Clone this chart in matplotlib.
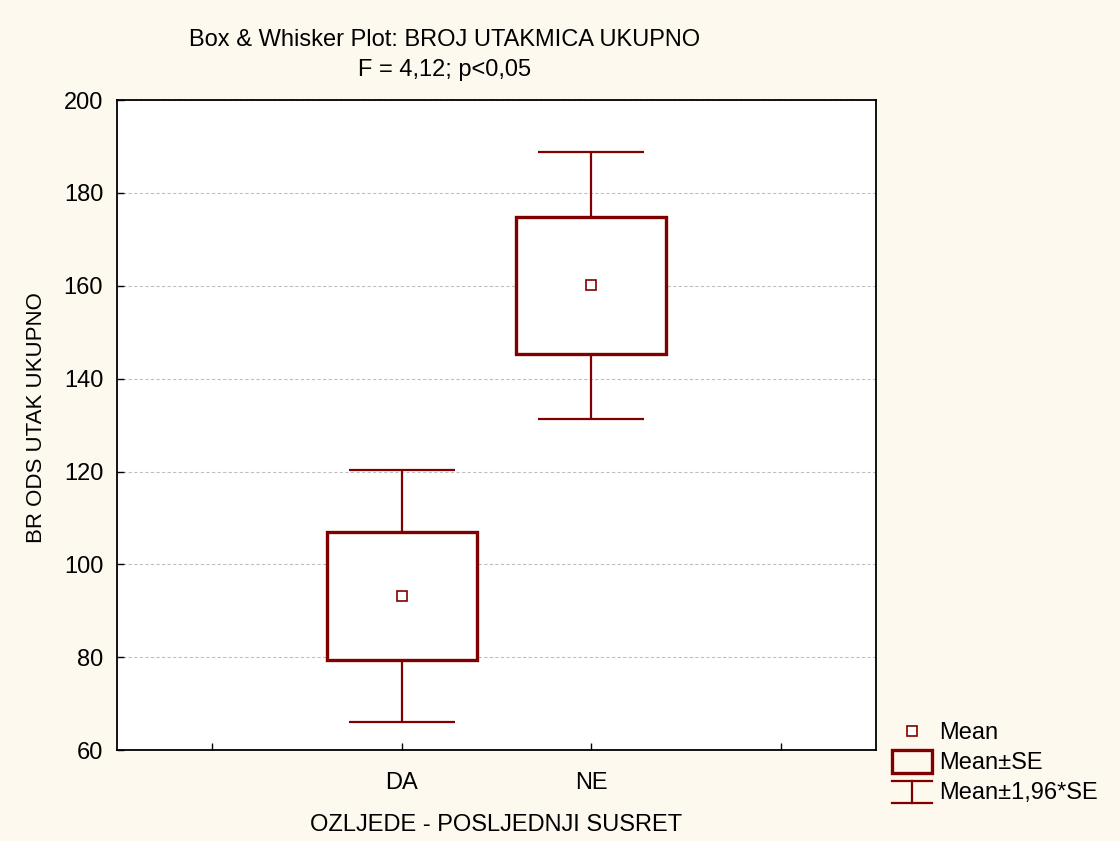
import numpy as np
import matplotlib.pyplot as plt
from matplotlib.lines import Line2D
from matplotlib.patches import Rectangle
from matplotlib.legend_handler import HandlerBase

plt.rcParams['font.family'] = ['Liberation Sans', 'DejaVu Sans']

# Data
groups = ['DA', 'NE']
group_pos = [2, 3]
means = np.array([93.2, 160.1])
se = np.array([13.8, 14.7])
xticks = [1, 2, 3, 4]
xticklabels = ['', 'DA', 'NE', '']
yticks = [60, 80, 100, 120, 140, 160, 180, 200]

RED = '#800000'
BG = '#fdf9ef'
FS = 17


class WhiskerHandler(HandlerBase):
    # I-shaped symbol for the Mean+-1.96*SE entry
    def create_artists(self, legend, orig_handle, xd, yd, width, height, fontsize, trans):
        x0, x1 = xd, xd + width
        xm = xd + width / 2
        y0, y1 = yd - 3, yd + height + 1
        lines = [
            Line2D([x0, x1], [y1, y1]),
            Line2D([xm, xm], [y0, y1]),
            Line2D([x0, x1], [y0, y0]),
        ]
        for ln in lines:
            ln.set_color(RED)
            ln.set_linewidth(1.6)
            ln.set_transform(trans)
        return lines


class BoxHandler(HandlerBase):
    # taller rectangle for the Mean+-SE entry
    def create_artists(self, legend, orig_handle, xd, yd, width, height, fontsize, trans):
        r = Rectangle((xd, yd - 3), width, height + 5, facecolor='none',
                      edgecolor=RED, linewidth=2.4, transform=trans)
        return [r]


fig = plt.figure(figsize=(11.2, 8.41), dpi=100, facecolor=BG)
ax = fig.add_axes([0.1045, 0.108, 0.6777, 0.773])
ax.set_facecolor('white')

# whiskers (mean +- 1.96*SE)
ax.errorbar(group_pos, means, yerr=1.96 * se, fmt='none', ecolor=RED,
            elinewidth=1.6, capsize=38, capthick=1.6, zorder=2)
# boxes (mean +- SE)
ax.bar(group_pos, 2 * se, bottom=means - se, width=0.79, color='white',
       edgecolor=RED, linewidth=2.4, zorder=3)
# means
ax.plot(group_pos, means, linestyle='none', marker='s', markersize=7.5,
        markerfacecolor='white', markeredgecolor=RED, markeredgewidth=1.2, zorder=4)

ax.set_xlim(0.5, 4.5)
ax.set_ylim(60, 200)
ax.set_xticks(xticks)
ax.set_xticklabels(xticklabels)
ax.set_yticks(yticks)
ax.tick_params(direction='in', length=5, width=1, labelsize=FS)
ax.tick_params(axis='y', pad=10)
ax.tick_params(axis='x', pad=16)
ax.yaxis.grid(True, linestyle=(0, (3, 2)), color='#c0c0c0', linewidth=0.8)
ax.set_axisbelow(True)
for sp in ax.spines.values():
    sp.set_linewidth(1.3)

ax.set_xlabel('OZLJEDE - POSLJEDNJI SUSRET', fontsize=FS, labelpad=14)
ax.set_ylabel('BR ODS UTAK UKUPNO', fontsize=16, labelpad=12)
ax.yaxis.label.set_y(0.512)

fig.text(0.397, 0.952, 'Box & Whisker Plot: BROJ UTAKMICA UKUPNO', ha='center',
         va='center', fontsize=FS)
fig.text(0.397, 0.917, 'F = 4,12; p<0,05', ha='center', va='center', fontsize=FS)

h_mean = Line2D([], [], linestyle='none', marker='s', markersize=7.5,
                markerfacecolor='white', markeredgecolor=RED, markeredgewidth=1.2)
h_box = object()
h_wh = object()
fig.legend([h_mean, h_box, h_wh], ['Mean', 'Mean±SE', 'Mean±1,96*SE'],
           handler_map={h_box: BoxHandler(), h_wh: WhiskerHandler()},
           loc='upper left', bbox_to_anchor=(0.786, 0.155), frameon=False,
           fontsize=FS, handlelength=1.7, handletextpad=0.3, labelspacing=0.33,
           borderpad=0)

fig.savefig('out.png', dpi=100, facecolor=BG)
